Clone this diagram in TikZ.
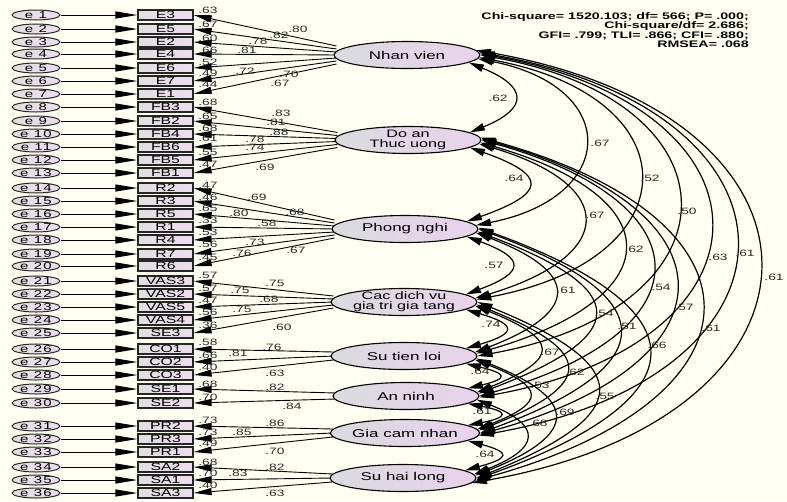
\documentclass[tikz,border=0pt]{standalone}
\usepackage{fontspec}
\setmainfont[FakeStretch=1.5]{Liberation Sans}
\newfontfamily\errfont[FakeStretch=1.5,LetterSpace=12]{Liberation Sans}
\usetikzlibrary{shapes.geometric,arrows.meta}
\pgfdeclarelayer{paper}
\pgfdeclarelayer{wires}
\pgfsetlayers{paper,wires,main}

\definecolor{paper}{HTML}{FFFFF2}
\definecolor{shadeL}{HTML}{DADBDF}
\definecolor{shadeR}{HTML}{E9D2EC}
\definecolor{boxL}{HTML}{E0E0E0}
\definecolor{boxR}{HTML}{EDDCEE}
\definecolor{numcol}{HTML}{2A2A2A}

\tikzset{
  latent/.style={ellipse, draw=black, line width=1.1pt, left color=shadeL, right color=shadeR,
    minimum width=146pt, minimum height=27pt, inner sep=0pt, align=center,
    font=\fontsize{11.3}{10.6}\selectfont},
  twoline/.style={inner ysep=-1.5pt, font=\fontsize{10.8}{10.4}\selectfont},
  ind/.style={rectangle, draw=black!85, line width=1.2pt, left color=boxL, right color=boxR,
    minimum width=55pt, minimum height=10pt, inner sep=0pt, font=\fontsize{10.5}{10}\selectfont},
  err/.style={ellipse, draw=black!85, line width=1pt, left color=boxL, right color=boxR,
    minimum width=48pt, minimum height=10pt, inner sep=0pt, font=\errfont\fontsize{10}{10}\selectfont},
  num/.style={font=\fontsize{9.2}{9.2}\selectfont, text=numcol, inner sep=0pt},
  errarr/.style={line width=1pt, -{Triangle[length=22pt,width=7pt]}},
  loadarr/.style={line width=0.9pt, -{Triangle[length=18pt,width=7pt]}},
  covarr/.style={line width=1.2pt, {Triangle[length=15pt,width=7.5pt]}-{Triangle[length=15pt,width=7.5pt]}}
}

\begin{document}
\begin{tikzpicture}[x=1pt,y=-1pt]
\useasboundingbox (0,0) rectangle (787,501);
\begin{pgfonlayer}{paper}
  \fill[paper] (0,0) rectangle (787,501);
\end{pgfonlayer}

% fit statistics
\node[anchor=north east, align=right, inner sep=0pt, font=\bfseries\fontsize{9.5}{7.9}\selectfont]
  (fit) at (749,12) {Chi-square= 1520.103; df= 566; P= .000;\\Chi-square/df= 2.686;\\GFI= .799; TLI= .866; CFI= .880;\\RMSEA= .068};

% latent factors
\node[latent] (nv)  at (407,55)  {Nhan vien};
\node[latent,twoline] (da)  at (408,140) {Do an\\Thuc uong};
\node[latent] (pn)  at (405,229) {Phong nghi};
\node[latent,twoline] (cdv) at (404,302) {Cac dich vu\\gia tri gia tang};
\node[latent] (stl) at (404,356) {Su tien loi};
\node[latent] (an)  at (406,396) {An ninh};
\node[latent] (gcn) at (405,433) {Gia cam nhan};
\node[latent] (shl) at (403,478) {Su hai long};

% error terms and observed indicators
\foreach \i/\lab/\y in {
  1/E3/15, 2/E5/29, 3/E2/42, 4/E4/54, 5/E6/68, 6/E7/81, 7/E1/94,
  8/FB3/107, 9/FB2/121, 10/FB4/134, 11/FB6/147, 12/FB5/160, 13/FB1/173,
  14/R2/188, 15/R3/201, 16/R5/214, 17/R1/227, 18/R4/240, 19/R7/254, 20/R6/266,
  21/VAS3/281, 22/VAS2/294, 23/VAS5/307, 24/VAS4/320, 25/SE3/333,
  26/CO1/349, 27/CO2/362, 28/CO3/375,
  29/SE1/389, 30/SE2/403,
  31/PR2/426, 32/PR3/439, 33/PR1/452,
  34/SA2/467, 35/SA1/480, 36/SA3/493}
{
  \node[err] (e\i) at (36,\y) {e \i};
  \node[ind] (b\i) at (165.5,\y) {\lab};
  \draw[errarr] (e\i) -- (b\i);
}

% factor loadings (factor -> indicator)
\begin{pgfonlayer}{wires}
  \foreach \i/\dy in {1/9,2/6,3/3,4/0,5/-3,6/-6,7/-9}
    \draw[loadarr] ([xshift=3pt,yshift=\dy pt]nv.west) -- (b\i.east);
  \foreach \i/\dy in {8/7.5,9/4.5,10/1.5,11/-1.5,12/-4.5,13/-7.5}
    \draw[loadarr] ([xshift=3pt,yshift=\dy pt]da.west) -- (b\i.east);
  \foreach \i/\dy in {14/9,15/6,16/3,17/0,18/-3,19/-6,20/-9}
    \draw[loadarr] ([xshift=3pt,yshift=\dy pt]pn.west) -- (b\i.east);
  \foreach \i/\dy in {21/6,22/3,23/0,24/-3,25/-6}
    \draw[loadarr] ([xshift=3pt,yshift=\dy pt]cdv.west) -- (b\i.east);
  \foreach \i/\dy in {26/4,27/0,28/-4}
    \draw[loadarr] ([xshift=3pt,yshift=\dy pt]stl.west) -- (b\i.east);
  \foreach \i/\dy in {29/3,30/-3}
    \draw[loadarr] ([xshift=3pt,yshift=\dy pt]an.west) -- (b\i.east);
  \foreach \i/\dy in {31/4,32/0,33/-4}
    \draw[loadarr] ([xshift=3pt,yshift=\dy pt]gcn.west) -- (b\i.east);
  \foreach \i/\dy in {34/4,35/0,36/-4}
    \draw[loadarr] ([xshift=3pt,yshift=\dy pt]shl.west) -- (b\i.east);
\end{pgfonlayer}

% squared multiple correlations
\foreach \i/\v/\y in {
  1/.63/10, 2/.67/24, 3/.60/38, 4/.66/50, 5/.52/62, 6/.49/73, 7/.44/84,
  8/.68/102, 9/.65/116, 10/.68/128, 11/.61/138, 12/.55/152, 13/.47/164,
  14/.47/185, 15/.46/197, 16/.65/208, 17/.33/220, 18/.53/232, 19/.56/244, 20/.45/257,
  21/.57/275, 22/.57/288, 23/.47/300, 24/.56/312, 25/.36/325,
  26/.58/342, 27/.66/355, 28/.40/367,
  29/.68/384, 30/.70/397,
  31/.73/420, 32/.73/432, 33/.49/443,
  34/.68/462, 35/.70/473, 36/.40/485}
  \node[num] (r\i) at (208,\y) {\v};

% standardized loadings
\foreach \i/\v/\x/\y in {
  1/.80/298/29, 2/.82/279/35, 3/.78/258/41, 4/.81/247/50, 5/.72/245/71, 6/.70/289/74, 7/.67/280/83,
  8/.83/281/113, 9/.81/276/122, 10/.88/279/132, 11/.78/255/139, 12/.74/255/147, 13/.69/265/167,
  14/.69/257/197, 15/.68/295/212, 16/.80/239/213, 17/.58/267/223, 18/.73/255/242, 19/.76/242/253, 20/.67/296/250,
  21/.75/275/283, 22/.75/240/290, 23/.68/269/299, 24/.75/242/309, 25/.60/282/327,
  26/.76/272/347, 27/.81/238/353, 28/.63/275/373,
  29/.82/275/387, 30/.84/292/406,
  31/.86/275/423, 32/.85/242/432, 33/.70/275/451,
  34/.82/275/467, 35/.83/238/473, 36/.63/275/493}
  \node[num] (l\i) at (\x,\y) {\v};

% covariances between neighbouring factors
\draw[covarr] (nv.-7)  .. controls +(59,24) and +(59,-24) .. (da.7);
\draw[covarr] (da.-7)  .. controls +(79,28) and +(79,-28) .. (pn.7);
\draw[covarr] (pn.-7)  .. controls +(59,22) and +(59,-22) .. (cdv.7);
\draw[covarr] (cdv.-7) .. controls +(51,15) and +(51,-15) .. (stl.7);
\draw[covarr] (stl.-7) .. controls +(41,10) and +(41,-10) .. (an.7);
\draw[covarr] (an.-7)  .. controls +(41,8)  and +(41,-8)  .. (gcn.7);
\draw[covarr] (gcn.-7) .. controls +(44,12) and +(44,-12) .. (shl.7);

% covariances spanning further
\draw[covarr] (nv.-3.5) .. controls +(143,28)  and +(143,-28)  .. (pn.3.5);
\draw[covarr] (nv.-2)   .. controls +(215,40)  and +(215,-40)  .. (cdv.2);
\draw[covarr] (nv.-0.5) .. controls +(265,48)  and +(265,-48)  .. (stl.0.5);
\draw[covarr] (nv.1)    .. controls +(306,55)  and +(306,-55)  .. (an.-1);
\draw[covarr] (nv.2.5)  .. controls +(341,60)  and +(341,-60)  .. (gcn.-2.5);
\draw[covarr] (nv.4)    .. controls +(379,66)  and +(379,-66)  .. (shl.-4);

\draw[covarr] (da.-3.5) .. controls +(141,42)  and +(141,-42)  .. (cdv.3.5);
\draw[covarr] (da.-2)   .. controls +(193,56)  and +(193,-56)  .. (stl.2);
\draw[covarr] (da.-0.5) .. controls +(228,64)  and +(228,-64)  .. (an.0.5);
\draw[covarr] (da.1)    .. controls +(259,72)  and +(259,-72)  .. (gcn.-1);
\draw[covarr] (da.2.5)  .. controls +(297,82)  and +(297,-82)  .. (shl.-2.5);

\draw[covarr] (pn.-3.5) .. controls +(105,40)  and +(105,-40)  .. (stl.3.5);
\draw[covarr] (pn.-2)   .. controls +(154,58)  and +(154,-58)  .. (an.2);
\draw[covarr] (pn.-0.5) .. controls +(185,68)  and +(185,-68)  .. (gcn.0.5);
\draw[covarr] (pn.1)    .. controls +(227,82)  and +(227,-82)  .. (shl.-1);

\draw[covarr] (cdv.-3.5) .. controls +(84,34)  and +(84,-34)  .. (an.3.5);
\draw[covarr] (cdv.-2)   .. controls +(117,47) and +(117,-47) .. (gcn.2);
\draw[covarr] (cdv.-0.5) .. controls +(159,64) and +(159,-64) .. (shl.0.5);

\draw[covarr] (stl.-3.5) .. controls +(69,27)  and +(69,-27)  .. (gcn.3.5);
\draw[covarr] (stl.-2)   .. controls +(103,41) and +(103,-41) .. (shl.2);

\draw[covarr] (an.-3.5)  .. controls +(66,26)  and +(66,-26)  .. (shl.3.5);

% correlation estimates
\foreach \i/\v/\x/\y in {
  1/.62/498/98, 2/.64/514/178, 3/.57/494/265, 4/.74/491/324, 5/.64/480/371, 6/.61/482/411, 7/.64/485/454,
  8/.67/600/143, 9/.52/650/178, 10/.50/687/211, 11/.63/718/257, 12/.61/745/253, 13/.61/774/277,
  14/.67/595/215, 15/.62/634/249, 16/.54/661/287, 17/.57/684/307, 18/.61/711/328,
  19/.61/566/290, 20/.54/604/313, 21/.51/627/326, 22/.66/657/345,
  23/.67/550/352, 24/.62/575/372, 25/.55/605/396,
  26/.53/540/385, 27/.69/565/412,
  28/.68/538/423}
  \node[num] (c\i) at (\x,\y) {\v};
\end{tikzpicture}
\end{document}
